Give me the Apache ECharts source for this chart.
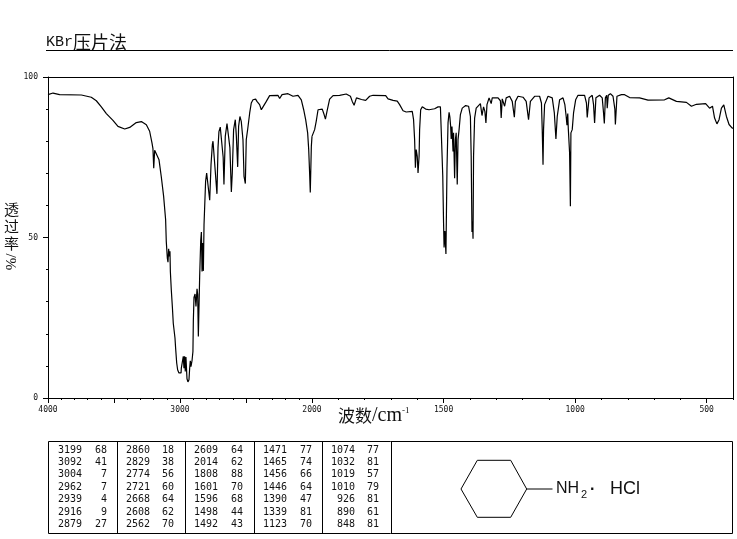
<!DOCTYPE html>
<html>
<head>
<meta charset="utf-8">
<style>html,body{margin:0;padding:0;background:#fff}#c{width:737px;height:539px}</style>
<script src="https://cdn.jsdelivr.net/npm/echarts@6/dist/echarts.min.js"></script>
</head>
<body>
<div id="c"></div>
<script>
const wnHigh = [4000,3962,3912,3747,3735,3672,3634,3596,3558,3508,3470,3419,3381,3331,3293,3255,3230,3212,3205,3199,3192,3177,3159,3142,3124,3109,3104,3096,3091,3086,3081,3076,3073,3066,3058,3051,3038,3033,3025,3018,3008,2992,2990,2980,2975,2970,2965,2960,2955,2947,2940,2932,2927,2922,2917,2909,2902,2899,2894,2886,2879,2871,2866,2861,2856,2851,2843,2838,2833,2828,2823,2818,2813,2806,2798,2790,2775,2765,2755,2750,2738,2730,2720,2712,2705,2695,2684,2673,2667,2657,2644,2631,2622,2611,2604,2594,2581,2573,2563,2556,2546,2536,2523,2515,2505,2498,2487,2472,2460,2447,2427,2417,2407,2397,2384,2371,2346,2321,2258,2245,2227,2182,2144,2106,2081,2063,2048,2033,2025,2018,2013,2005,2000];
const tHigh = [94.5,95,94.5,94.4,93.9,93.7,92.6,90.7,88.6,86.5,84.6,83.8,84.3,85.8,86.1,85.1,83.1,79.4,77.7,71.6,77.2,77.7,74.2,69,62.8,55.6,48.8,43.6,42.3,46.5,44.1,45.7,39.4,33.7,28.5,23.3,18.7,15.4,10.9,8.8,7.8,7.8,9.3,9.1,13,9.3,13,8.3,12.8,6,5,5.7,9.1,11.6,9.8,11.6,14.5,23.9,31.3,32.4,28.5,34,32.2,19.2,18.9,37.9,49,51.7,39.4,48.3,39.6,54,53.5,67.5,70.1,70.3,61.6,72.7,78.9,80,79.4,69,63.6,78,83,84.4,84.1,75,66.5,81.5,85.5,85.2,78,64.2,70,83.6,86.7,81.5,72,84.6,87.7,86.2,80.5,69,66.8,80.5,83.8,88.8,91.9,92.9,93.1,92.4,92.9,91.4,89.8,90.7,92.4,94.2,94.3,93.3,94.5,94.8,94,94.3,92.9,89.8,86.7,82.6,77.4,70,64,78.4,81.5];
const wnLow = [2000,1996,1990,1984,1977,1971,1961,1954,1949,1943,1933,1920,1895,1870,1854,1847,1840,1831,1812,1796,1781,1768,1720,1711,1692,1676,1667,1654,1642,1619,1614,1610,1607,1604,1600,1597,1593,1591,1587,1581,1568,1555,1534,1521,1512,1509,1503,1500,1498,1495,1491,1487,1483,1479,1476,1473,1471,1468,1464,1462,1458,1455,1452,1448,1445,1441,1436,1429,1416,1405,1398,1395,1392,1390,1388,1386,1382,1376,1369,1360,1354,1348,1343,1339,1335,1327,1319,1315,1293,1284,1281,1277,1268,1262,1249,1239,1231,1227,1217,1198,1186,1177,1170,1154,1135,1128,1125,1122,1120,1116,1103,1087,1079,1073,1068,1059,1046,1039,1034,1031,1028,1026,1021,1018,1016,1011,1006,998,989,964,957,954,951,947,935,930,926,921,907,897,892,889,885,880,878,874,866,856,849,847,845,841,824,812,793,755,723,660,644,615,577,558,539,504,489,478,470,461,453,444,435,425,415,403,400];
const tLow = [81.5,81.5,83.6,86.2,89.8,90.3,90,88.3,86.9,89.3,93.1,94.2,94.3,94.7,94,92.4,91.2,93.5,93,92.7,94,94.3,94.2,93.2,92.7,92.5,91.4,89.5,89.1,89.3,86.7,80.5,71.7,77.4,75.3,70.1,75.3,83.6,89.8,90.7,90,89.8,90.1,90.7,90.7,83.6,69,54.5,46.9,52,44.9,71.4,85.7,89,87.5,84.6,80.7,84.6,76.8,82.6,68.5,80.5,82.6,66.5,80.5,83.6,88.3,90.3,91.1,90.9,87.7,75.3,51.7,55,49.6,75.3,87.2,90.3,90,91.7,88,90.7,89.3,85.7,91.4,93.5,91.7,93.5,93.5,92.6,87.2,93.2,90.9,93.5,94,92.4,87.5,92.4,94,93.7,92.4,86.7,92.4,94,94,91.9,83.6,72.7,83.6,91.4,94,93.5,88.8,80.7,87.7,92.9,93.5,91.4,87.7,85,88.6,84,76.3,59.7,82.6,83.6,88.8,92.9,94.3,94.3,91.9,87.4,87.4,93.5,94.3,91.4,85.7,93.5,94.3,93.5,88.8,85.5,93.5,94.3,90.3,94.3,94.8,94,90,85.2,85.2,94,94.5,94.5,93.6,93.5,92.8,92.9,93.5,92.4,92.1,90.9,91.5,91.7,90.3,90.9,87.2,85.4,86.7,90.3,91.3,87.7,85.2,84.1,84.1];

const xLabelsHigh = [4000,3000,2000];
const xLabelsLow = [1500,1000,500];
const xMajorHigh = [4000,3500,3000,2500,2000];
const xMajorLow = [2000,1500,1000,500];
const yLabels = [0,50,100];

const peakWn = [
  [3199,3092,3004,2962,2939,2916,2879],
  [2860,2829,2774,2721,2668,2608,2562],
  [2609,2014,1808,1601,1596,1498,1492],
  [1471,1465,1456,1446,1390,1339,1123],
  [1074,1032,1019,1010,926,890,848]
];
const peakT = [
  [68,41,7,7,4,9,27],
  [18,38,56,60,64,62,70],
  [64,62,88,70,68,44,43],
  [77,74,66,64,47,81,70],
  [77,81,57,79,81,61,81]
];

const titleLatin = 'KBr', titleCjk = '压片法';
const xName = '波数', xUnit = '/cm', xExp = '-1';
const yNameChars = ['透','过','率'], yUnit = '%/';

const BLACK = '#000';
const tickFont = {color:'#111',fontSize:8,fontFamily:'"DejaVu Sans Mono",monospace',formatter:v=>String(v)};
const pairs = (a,b)=>a.map((v,i)=>[v,b[i]]);

function xAxes(gridIndex,min,max,major,labels){
  return [
    {type:'value',gridIndex,min,max,inverse:true,interval:100,position:'bottom',splitLine:{show:false},
     axisLine:{show:true,onZero:false,lineStyle:{color:BLACK,width:1}},
     axisTick:{show:true,length:2,inside:false,lineStyle:{color:BLACK}},axisLabel:{show:false}},
    {type:'value',gridIndex,min,max,inverse:true,interval:100,position:'bottom',splitLine:{show:false},
     axisLine:{show:false,onZero:false},
     axisTick:{show:true,length:5,customValues:major,lineStyle:{color:BLACK}},
     axisLabel:Object.assign({show:true,margin:8,customValues:labels,showMinLabel:true,showMaxLabel:true,hideOverlap:false},tickFont)},
    {type:'value',gridIndex,min,max,inverse:true,position:'top',splitLine:{show:false},
     axisLine:{show:true,onZero:false,lineStyle:{color:BLACK,width:1}},axisTick:{show:false},axisLabel:{show:false}}
  ];
}

const graphic = [];
const txt = (x,y,text,font,extra)=>graphic.push(Object.assign({type:'text',x,y,silent:true,
  style:{text,font,fill:'#111',textVerticalAlign:'middle',textAlign:'left'}},extra||{}));
const seg = (x1,y1,x2,y2,w)=>graphic.push({type:'line',silent:true,shape:{x1,y1,x2,y2},style:{stroke:BLACK,lineWidth:w||1}});

// heading
txt(46,42,titleLatin,'15px "Liberation Mono"');
txt(73,42,titleCjk,'18px "Noto Sans CJK SC"');
seg(46,50.5,733,50.5);
// axis names
txt(338,416,xName,'17px "Noto Sans CJK SC"');
txt(372,416,xUnit,'20px "Liberation Serif"');
txt(402,411,xExp,'9px "Liberation Serif"');
yNameChars.forEach((c,i)=>txt(4,209+i*17,c,'15px "Noto Sans CJK SC"'));
graphic.push({type:'text',x:12,y:262,rotation:Math.PI/2,silent:true,
  style:{text:yUnit,font:'15px "Liberation Serif"',fill:'#111',textAlign:'center',textVerticalAlign:'middle'}});

// table frame
graphic.push({type:'rect',silent:true,shape:{x:48.5,y:441.5,width:684,height:92},style:{fill:'none',stroke:BLACK,lineWidth:1}});
[117.5,185.5,254.5,322.5,391.5].forEach(x=>seg(x,441.5,x,533.5));
const wnRight=[82,150,218,287,355], tRight=[107,174,243,312,379];
const tableFont='10px "DejaVu Sans Mono"';
peakWn.forEach((col,c)=>col.forEach((w,r)=>{
  const y=450+r*12.4;
  txt(wnRight[c],y,String(w),tableFont,{style:{text:String(w),font:tableFont,fill:'#111',textAlign:'right',textVerticalAlign:'middle'}});
  txt(tRight[c],y,String(peakT[c][r]),tableFont,{style:{text:String(peakT[c][r]),font:tableFont,fill:'#111',textAlign:'right',textVerticalAlign:'middle'}});
}));

// structure
graphic.push({type:'polygon',silent:true,shape:{points:[[461,489],[477.3,460.3],[510.7,460.3],[526.7,489],[510.7,517.3],[477.3,517.3]]},style:{fill:'none',stroke:BLACK,lineWidth:1}});
seg(526.7,489,552.5,489);
txt(556,489,'NH','16px "Liberation Sans"');
txt(581,495,'2','11px "Liberation Sans"');
txt(590,490,'·','bold 16px "Liberation Sans"');
txt(610,489,'HCl','18px "Liberation Sans"');

const chart = echarts.init(document.getElementById('c'),null,{renderer:'canvas'});
chart.setOption({
  animation:false,
  backgroundColor:'#fff',
  grid:[
    {left:48,top:77,width:264,height:321,containLabel:false},
    {left:312,top:77,width:421,height:321,containLabel:false}
  ],
  xAxis:[...xAxes(0,2000,4000,xMajorHigh,xLabelsHigh),...xAxes(1,400,2000,xMajorLow,xLabelsLow)],
  yAxis:[
    {type:'value',gridIndex:0,min:0,max:100,interval:10,position:'left',splitLine:{show:false},
     axisLine:{show:true,lineStyle:{color:BLACK,width:1}},axisTick:{show:true,length:2,lineStyle:{color:BLACK}},axisLabel:{show:false}},
    {type:'value',gridIndex:0,min:0,max:100,interval:50,position:'left',splitLine:{show:false},
     axisLine:{show:false},axisTick:{show:true,length:5,lineStyle:{color:BLACK}},
     axisLabel:Object.assign({show:true,margin:10,customValues:yLabels},tickFont)},
    {type:'value',gridIndex:1,min:0,max:100,position:'right',splitLine:{show:false},
     axisLine:{show:true,lineStyle:{color:BLACK,width:1}},axisTick:{show:false},axisLabel:{show:false}}
  ],
  series:[
    {type:'line',xAxisIndex:0,yAxisIndex:0,data:pairs(wnHigh,tHigh),showSymbol:false,symbol:'none',smooth:false,lineStyle:{color:BLACK,width:1.2}},
    {type:'line',xAxisIndex:3,yAxisIndex:2,data:pairs(wnLow,tLow),showSymbol:false,symbol:'none',smooth:false,lineStyle:{color:BLACK,width:1.2}}
  ],
  graphic:{elements:graphic}
});
</script>
</body>
</html>
